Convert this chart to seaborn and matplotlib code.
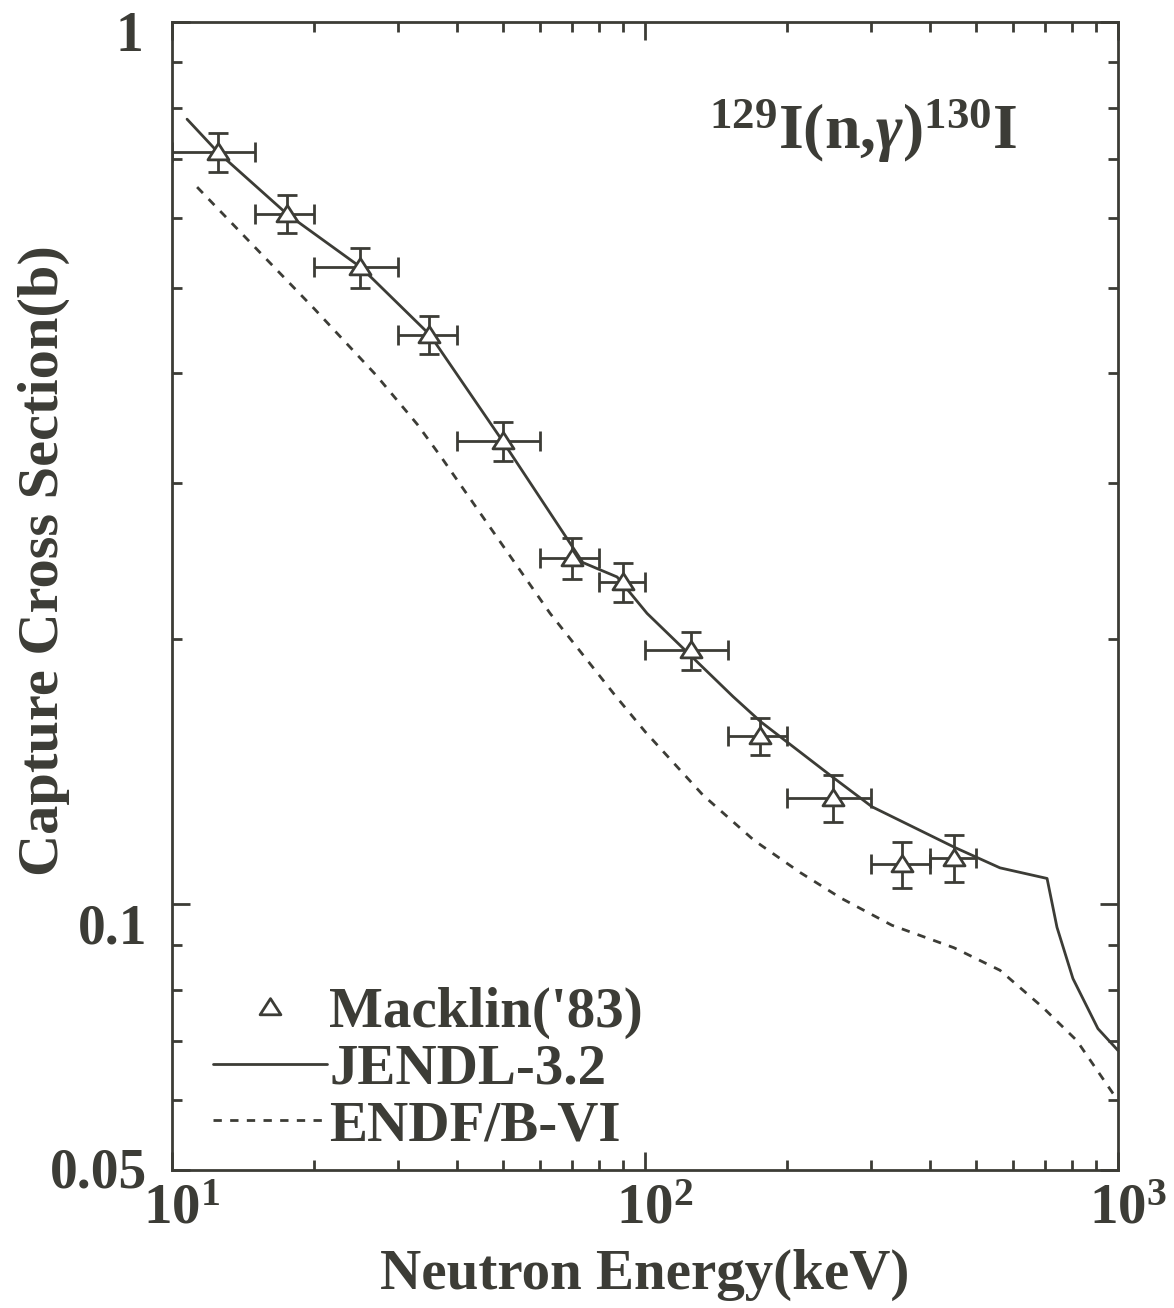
import numpy as np
import pandas as pd
import seaborn as sns
import matplotlib
matplotlib.use('Agg')
import matplotlib.pyplot as plt
from matplotlib.ticker import FixedLocator, LogLocator, NullFormatter, FixedFormatter
from matplotlib.transforms import ScaledTranslation
from matplotlib.path import Path
from matplotlib.lines import Line2D

# ---------------- data ----------------
mack_e = [12.5, 17.5, 25.0, 35.0, 50.0, 70.0, 90.0, 125.0, 175.0, 250.0, 350.0, 450.0]
mack_lo = [10.0, 15.0, 20.0, 30.0, 40.0, 60.0, 80.0, 100.0, 150.0, 200.0, 300.0, 400.0]
mack_hi = [15.0, 20.0, 30.0, 40.0, 60.0, 80.0, 100.0, 150.0, 200.0, 300.0, 400.0, 500.0]
mack_xs = [0.712, 0.606, 0.527, 0.442, 0.335, 0.247, 0.232, 0.194, 0.155, 0.132, 0.111, 0.113]
mack_err = [0.036, 0.030, 0.027, 0.022, 0.017, 0.013, 0.012, 0.0095, 0.0075, 0.008, 0.0066, 0.007]

jendl_e = [10.76, 12.5, 17.5, 25.1, 35.1, 50.0, 73.9, 87.3, 101.0, 153.5, 175.8, 251.0, 302.0,
           452.0, 563.0, 708.0, 743.0, 803.0, 907.0, 1000.0]
jendl_xs = [0.776, 0.712, 0.606, 0.527, 0.442, 0.335, 0.244, 0.235, 0.2137, 0.172, 0.161, 0.139, 0.129,
            0.116, 0.110, 0.107, 0.0942, 0.0824, 0.0723, 0.0683]

endf_e = [11.3, 15.0, 20.0, 27.0, 33.0, 37.2, 47.5, 63.0, 86.4, 100.0, 132.6, 170.0, 212.7, 260.0,
          332.6, 450.0, 563.0, 694.0, 818.0, 975.0, 1000.0]
endf_xs = [0.650, 0.555, 0.473, 0.398, 0.350, 0.3205, 0.2655, 0.2137, 0.1726, 0.157, 0.133, 0.1182,
           0.1087, 0.1016, 0.0947, 0.0893, 0.0842, 0.0764, 0.0701, 0.0611, 0.0600]

x_ticks = [10, 100, 1000]
x_ticklabels = [r'$10^{1}$', r'$10^{2}$', r'$10^{3}$']
y_ticks = [0.05, 0.1, 1.0]
y_ticklabels = ['0.05', '0.1', '1']

series_labels = ["Macklin('83)", 'JENDL-3.2', 'ENDF/B-VI']
title = r'$^{129}$I(n,$\mathit{\gamma}$)$^{130}$I'
xlabel = 'Neutron Energy(keV)'
ylabel = 'Capture Cross Section(b)'

# ---------------- style ----------------
sns.set_theme(style='ticks')
INK = '#3c3c36'
plt.rcParams.update({
    'font.family': ['Liberation Serif', 'DejaVu Serif'],
    'font.weight': 'bold',
    'mathtext.fontset': 'custom',
    'mathtext.rm': 'Liberation Serif:bold',
    'mathtext.bf': 'Liberation Serif:bold',
    'mathtext.it': 'Liberation Serif:bold:italic',
    'mathtext.default': 'rm',
    'text.color': INK,
    'axes.edgecolor': INK,
    'axes.labelcolor': INK,
    'xtick.color': INK,
    'ytick.color': INK,
    'axes.linewidth': 2.0,
})

W, H = 1174, 1308
fig = plt.figure(figsize=(W / 100, H / 100), dpi=100)
fig.patch.set_facecolor('white')
L, R, T, B = 172, 1118, 22, 1170
ax = fig.add_axes([L / W, 1 - B / H, (R - L) / W, (B - T) / H])
ax.set_facecolor('white')
ax.set_xscale('log')
ax.set_yscale('log')

tri = Path([(-1.0, -0.7), (1.0, -0.7), (0.0, 0.85), (-1.0, -0.7)],
           [Path.MOVETO, Path.LINETO, Path.LINETO, Path.CLOSEPOLY])

# curves
jendl = pd.DataFrame({'E': jendl_e, 'xs': jendl_xs})
endf = pd.DataFrame({'E': endf_e, 'xs': endf_xs})
sns.lineplot(data=jendl, x='E', y='xs', ax=ax, color=INK, lw=2.0, sort=False,
             estimator=None, zorder=2)
sns.lineplot(data=endf, x='E', y='xs', ax=ax, color=INK, lw=2.0, sort=False,
             estimator=None, linestyle=(0, (3.0, 3.0)), zorder=2)

# experimental points
e = np.array(mack_e)
xerr = [e - np.array(mack_lo), np.array(mack_hi) - e]
ax.errorbar(mack_e, mack_xs, xerr=xerr, yerr=mack_err, fmt='none', ecolor=INK,
            elinewidth=2.0, capsize=7.5, capthick=2.0, zorder=3)
mack = pd.DataFrame({'E': mack_e, 'xs': mack_xs})
sns.scatterplot(data=mack, x='E', y='xs', ax=ax, marker=tri, s=230, facecolor='white',
                edgecolor=INK, linewidth=2.0, zorder=5, legend=False)

# axes
ax.set_xlim(10, 1000)
ax.set_ylim(0.05, 1.0)
ax.xaxis.set_major_locator(FixedLocator(x_ticks))
ax.xaxis.set_major_formatter(FixedFormatter(x_ticklabels))
ax.xaxis.set_minor_locator(LogLocator(base=10, subs=np.arange(2, 10)))
ax.xaxis.set_minor_formatter(NullFormatter())
ax.yaxis.set_major_locator(FixedLocator(y_ticks))
ax.yaxis.set_major_formatter(FixedFormatter(y_ticklabels))
ax.yaxis.set_minor_locator(LogLocator(base=10, subs=np.arange(2, 10)))
ax.yaxis.set_minor_formatter(NullFormatter())
ax.tick_params(which='both', direction='in', top=True, right=True, width=2.0, color=INK)
ax.tick_params(which='major', length=13)
ax.tick_params(which='minor', length=7)
ax.tick_params(axis='x', which='major', labelsize=41, pad=10)
ax.tick_params(axis='y', which='major', labelsize=40, pad=18)
for s in ax.spines.values():
    s.set_linewidth(2.0)
    s.set_color(INK)

fig.canvas.draw()
# per-label nudges to match reference placement
for lab in ax.get_xticklabels():
    lab.set_transform(lab.get_transform() + ScaledTranslation(0.10, 0, fig.dpi_scale_trans))
y_off = {'1': -0.09, '0.1': -0.19, '0.05': 0.02}
y_dx = {'1': -0.04, '0.1': 0.0, '0.05': 0.0}
for lab in ax.get_yticklabels():
    dy = y_off.get(lab.get_text(), 0)
    dx = y_dx.get(lab.get_text(), 0)
    lab.set_transform(lab.get_transform() + ScaledTranslation(dx, dy, fig.dpi_scale_trans))

ax.set_xlabel(xlabel, fontsize=41, fontweight='bold')
ax.set_ylabel(ylabel, fontsize=42, fontweight='bold')
ax.xaxis.set_label_coords((645 - L) / (R - L), -0.069)
ax.yaxis.set_label_coords(-0.108, (B - 561) / (B - T))

ax.text((709 - L) / (R - L), (B - 149) / (B - T), title, transform=ax.transAxes,
        fontsize=46, fontweight='bold', ha='left', va='baseline', color=INK)

handles = [
    Line2D([], [], ls='none', marker=tri, ms=15, mfc='white', mec=INK, mew=2.0),
    Line2D([], [], color=INK, lw=2.0),
    Line2D([], [], color=INK, lw=2.0, ls=(0, (3.0, 3.0))),
]
leg = ax.legend(handles, series_labels, loc='lower left', bbox_to_anchor=(0.043, 0.0155),
                frameon=False, fontsize=41, handlelength=2.0, handletextpad=0.05,
                labelspacing=0.08, borderpad=0, borderaxespad=0, numpoints=1)
for t in leg.get_texts():
    t.set_color(INK)
    t.set_fontweight('bold')

fig.savefig('out.png', dpi=100, facecolor='white')
